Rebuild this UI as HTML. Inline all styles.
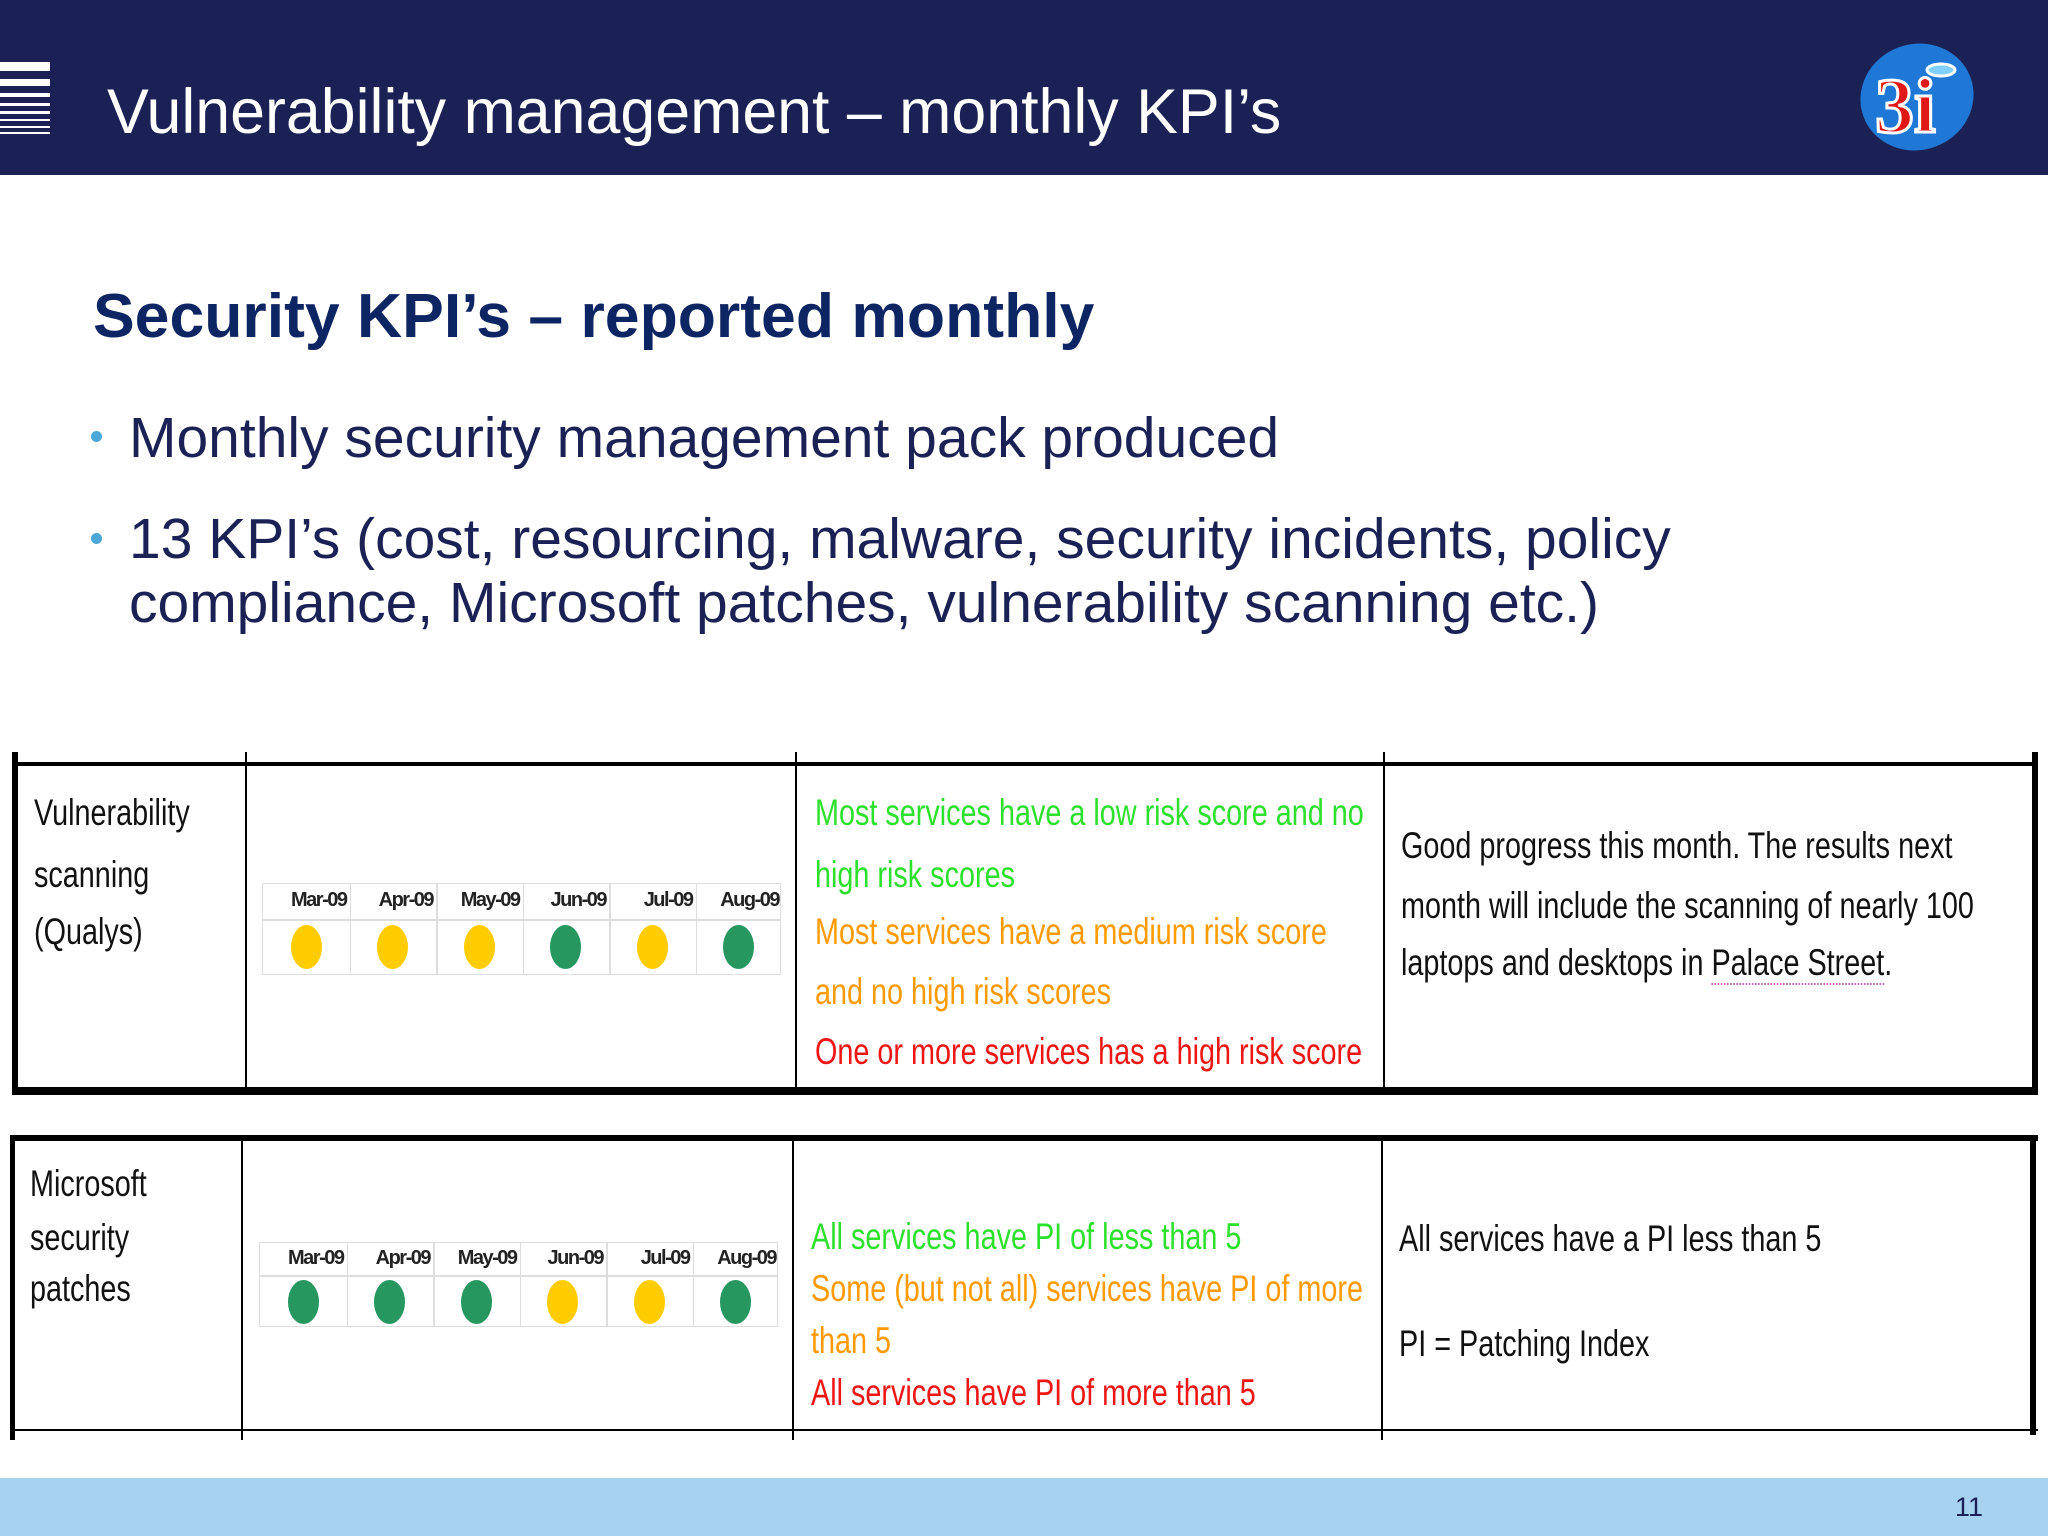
<!DOCTYPE html>
<html><head><meta charset="utf-8"><style>
*{margin:0;padding:0;box-sizing:border-box}
body{width:2048px;height:1536px;position:relative;background:#fff;overflow:hidden;font-family:"Liberation Sans",sans-serif}
.abs{position:absolute;white-space:nowrap}
.n{font-family:"Liberation Sans",sans-serif;font-size:37px;line-height:1;transform:scaleX(0.778);transform-origin:left center}
.hl{position:absolute;background:#000}
.g{color:#2ee02e}.o{color:#ff9a00}.r{color:#ee1515}.k{color:#111}
.mini{position:absolute;border:1.5px solid #ddd;background:#fff}
.mh{position:absolute;font-family:"Liberation Sans",sans-serif;font-size:20px;font-weight:bold;color:#222;letter-spacing:-1.5px}
.bul{position:absolute;left:91px;width:11px;height:11px;border-radius:50%;background:#4aa7d8}
</style></head><body>
<div style="position:absolute;left:0;top:0;width:2048px;height:175px;background:#1b2154"></div>
<svg class="abs" style="left:0;top:62px" width="52" height="74">
<rect x="0" y="0" width="50" height="9" fill="#fff"/><rect x="0" y="17" width="50" height="7" fill="#fff"/><rect x="0" y="31" width="50" height="4" fill="#fff"/><rect x="0" y="41" width="50" height="3" fill="#fff"/><rect x="0" y="49" width="50" height="3" fill="#fff"/><rect x="0" y="57" width="50" height="2" fill="#fff"/><rect x="0" y="64" width="50" height="2" fill="#fff"/><rect x="0" y="70" width="50" height="2" fill="#fff"/></svg>
<div class="abs" style="left:107px;top:76px;font-size:62.7px;color:#fff">Vulnerability management – monthly KPI’s</div>
<svg class="abs" style="left:1855px;top:40px" width="125" height="115">
<ellipse cx="62" cy="57" rx="57" ry="53" fill="#1f78d6" transform="rotate(-20 62 57)"/>
<text x="20" y="92" font-family="Liberation Serif,serif" font-weight="bold" font-size="78" fill="#e01818" stroke="#fff" stroke-width="3">3i</text>
<ellipse cx="86" cy="30" rx="14" ry="6" fill="#7fd0ff" stroke="#fff" stroke-width="3"/></svg>
<div class="abs" style="left:93px;top:280px;font-size:62.5px;font-weight:bold;color:#0e2563">Security KPI’s – reported monthly</div>
<div class="bul" style="top:431px"></div>
<div class="abs" style="left:129px;top:405px;font-size:57px;color:#1b2154">Monthly security management pack produced</div>
<div class="bul" style="top:533px"></div>
<div class="abs" style="left:129px;top:507px;font-size:57px;color:#1b2154;line-height:64px">13 KPI’s (cost, resourcing, malware, security incidents, policy<br>compliance, Microsoft patches, vulnerability scanning etc.)</div>

<!-- table 1 -->
<div>
<div class="hl" style="left:14px;top:762px;width:2024px;height:4px"></div>
<div class="hl" style="left:14px;top:1087px;width:2024px;height:8px"></div>
<div class="hl" style="left:12px;top:752px;width:6px;height:343px"></div>
<div class="hl" style="left:2032px;top:752px;width:6px;height:343px"></div>
<div class="hl" style="left:245px;top:752px;width:2px;height:340px"></div>
<div class="hl" style="left:795px;top:752px;width:2px;height:340px"></div>
<div class="hl" style="left:1383px;top:752px;width:2px;height:340px"></div>
</div>
<div class="abs n k" style="left:34px;top:794px">Vulnerability</div>
<div class="abs n k" style="left:34px;top:856px">scanning</div>
<div class="abs n k" style="left:34px;top:913px">(Qualys)</div>
<div class="abs n g" style="left:815px;top:794px">Most services have a low risk score and no</div>
<div class="abs n g" style="left:815px;top:856px">high risk scores</div>
<div class="abs n o" style="left:815px;top:913px">Most services have a medium risk score</div>
<div class="abs n o" style="left:815px;top:973px">and no high risk scores</div>
<div class="abs n r" style="left:815px;top:1033px">One or more services has a high risk score</div>
<div class="abs n k" style="left:1401px;top:827px">Good progress this month. The results next</div>
<div class="abs n k" style="left:1401px;top:887px">month will include the scanning of nearly 100</div>
<div class="abs n k" style="left:1401px;top:944px">laptops and desktops in <span style="border-bottom:2px dotted #c060c0">Palace Street</span>.</div>

<!-- table 2 -->
<div>
<div class="hl" style="left:12px;top:1135px;width:2026px;height:6px"></div>
<div class="hl" style="left:12px;top:1429px;width:2026px;height:2px"></div>
<div class="hl" style="left:10px;top:1135px;width:5px;height:305px"></div>
<div class="hl" style="left:2030px;top:1135px;width:6px;height:300px"></div>
<div class="hl" style="left:241px;top:1140px;width:2px;height:300px"></div>
<div class="hl" style="left:792px;top:1140px;width:2px;height:300px"></div>
<div class="hl" style="left:1381px;top:1140px;width:2px;height:300px"></div>
</div>
<div class="abs n k" style="left:30px;top:1165px">Microsoft</div>
<div class="abs n k" style="left:30px;top:1219px">security</div>
<div class="abs n k" style="left:30px;top:1270px">patches</div>
<div class="abs n g" style="left:811px;top:1218px">All services have PI of less than 5</div>
<div class="abs n o" style="left:811px;top:1270px">Some (but not all) services have PI of more</div>
<div class="abs n o" style="left:811px;top:1322px">than 5</div>
<div class="abs n r" style="left:811px;top:1374px">All services have PI of more than 5</div>
<div class="abs n k" style="left:1399px;top:1220px">All services have a PI less than 5</div>
<div class="abs n k" style="left:1399px;top:1325px">PI = Patching Index</div>

<div id="charts"></div>
<div style="position:absolute;left:0;top:1478px;width:2048px;height:58px;background:#a7d3f0"></div>
<div class="abs" style="left:1955px;top:1492px;font-size:27px;color:#1b2154">11</div>

<script>
const months = ["Mar-09","Apr-09","May-09","Jun-09","Jul-09","Aug-09"];
const vulnStatus = ["amber","amber","amber","green","amber","green"];
const patchStatus = ["green","green","green","amber","amber","green"];
const colors = {green:"#25975f", amber:"#ffcc00"};
function drawMini(name, left, top, width, height, status){
  const root=document.getElementById('charts');
  const box=document.createElement('div');
  box.className='mini';
  
  
  box.style.left=left+'px';box.style.top=top+'px';box.style.width=width+'px';box.style.height=height+'px';
  root.appendChild(box);
  const cw=width/months.length, hh=height*0.38;
  const hr=document.createElement('div');
  hr.style.cssText='position:absolute;left:0;top:'+hh+'px;width:100%;height:2px;background:#ddd';
  box.appendChild(hr);
  months.forEach((m,i)=>{
    if(i>0){const v=document.createElement('div');
      v.style.cssText='position:absolute;top:0;left:'+(i*cw)+'px;width:1.5px;height:100%;background:#ddd';
      box.appendChild(v);}
    const t=document.createElement('div');
    t.className='mh';
    
    
    t.textContent=m;
    t.style.left=(i*cw)+'px';t.style.width=(cw-3)+'px';t.style.textAlign='right';t.style.top=(hh/2-12)+'px';
    box.appendChild(t);
    const d=document.createElement('div');
    
    
    const dw=31, dh=44, cy=hh+(height-hh)/2;
    d.style.cssText='position:absolute;border-radius:50%;width:'+dw+'px;height:'+dh+'px;left:'+(i*cw+cw*0.5-dw/2)+'px;top:'+(cy-dh/2)+'px;background:'+colors[status[i]];
    box.appendChild(d);
  });
}
drawMini('vulnerability-status-chart',262,883,519,92,vulnStatus);
drawMini('patch-status-chart',259,1242,519,85,patchStatus);
</script>
</body></html>
